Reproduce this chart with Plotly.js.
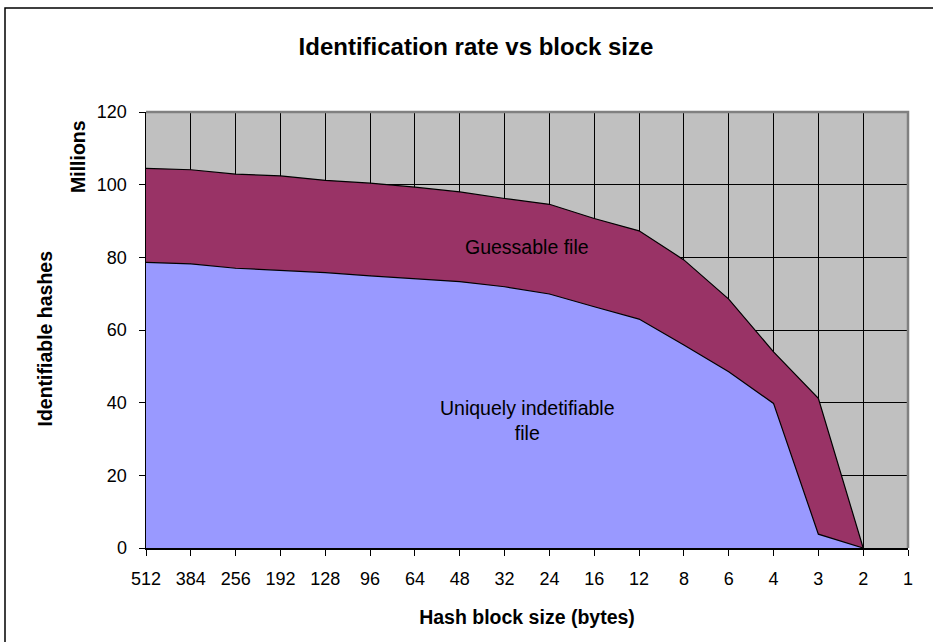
<!DOCTYPE html>
<html>
<head>
<meta charset="utf-8">
<script src="https://cdn.plot.ly/plotly-3.0.1.min.js"></script>
<style>
html,body{margin:0;padding:0;background:#fff;}
#chart{width:933px;height:642px;}
</style>
</head>
<body>
<div id="chart"></div>
<script>
// Hash block size categories (bytes)
var blockSizes = ["512","384","256","192","128","96","64","48","32","24","16","12","8","6","4","3","2","1"];
// Millions of hashes, uniquely identifiable file
var uniqueVals = [78.6, 78.2, 77.0, 76.5, 75.8, 74.9, 74.2, 73.3, 71.9, 69.9, 66.4, 63.0, 55.9, 48.5, 39.8, 3.8, 0, null];
// Millions of hashes, guessable file (stacked on top)
var guessVals  = [25.9, 25.9, 25.9, 25.9, 25.4, 25.5, 25.1, 24.7, 24.3, 24.7, 24.3, 24.3, 23.4, 20.0, 14.2, 37.4, 0, null];
var yTicks = [0, 20, 40, 60, 80, 100, 120];

function keep(vals){
  var xs = [], ys = [];
  for (var i = 0; i < vals.length; i++) {
    if (vals[i] !== null) { xs.push(blockSizes[i]); ys.push(vals[i]); }
  }
  return {x: xs, y: ys};
}
var u = keep(uniqueVals), g = keep(guessVals);

var traces = [
  {
    type: 'scatter', mode: 'lines', name: 'Uniquely indetifiable file',
    x: u.x, y: u.y, stackgroup: 'one',
    fillcolor: '#9999FF', line: {color: '#000000', width: 1.2}
  },
  {
    type: 'scatter', mode: 'lines', name: 'Guessable file',
    x: g.x, y: g.y, stackgroup: 'one',
    fillcolor: '#993366', line: {color: '#000000', width: 1.2}
  }
];

var font = 'Liberation Sans, Arial, sans-serif';

var layout = {
  width: 933, height: 642,
  margin: {l: 146, r: 25, t: 112, b: 94},
  paper_bgcolor: '#ffffff',
  plot_bgcolor: '#C0C0C0',
  showlegend: false,
  font: {family: font, color: '#000'},
  title: {
    text: '<b>Identification rate vs block size</b>',
    font: {family: font, size: 24, color: '#000'},
    x: 476/933, xanchor: 'center', y: 1 - 47/642, yanchor: 'middle'
  },
  xaxis: {
    type: 'category', categoryorder: 'array', categoryarray: blockSizes,
    tickvals: blockSizes, ticktext: blockSizes,
    range: [0, 17],
    showgrid: true, gridcolor: '#000000', gridwidth: 1,
    showline: true, linecolor: '#000000', linewidth: 1.5,
    ticks: 'outside', ticklen: 6, tickcolor: '#000', tickwidth: 1,
    tickfont: {family: font, size: 18, color: '#000'},
    ticklabelstandoff: 8,
    title: {
      text: '<b>Hash block size (bytes)</b>',
      font: {family: font, size: 19.5, color: '#000'},
      standoff: 22
    },
    fixedrange: true
  },
  yaxis: {
    range: [0, 120], tickvals: yTicks,
    showgrid: true, gridcolor: '#000000', gridwidth: 1,
    zeroline: false,
    showline: true, linecolor: '#000000', linewidth: 1.5,
    ticks: 'outside', ticklen: 6, tickcolor: '#000', tickwidth: 1,
    tickfont: {family: font, size: 18, color: '#000'},
    ticklabelstandoff: 8,
    fixedrange: true
  },
  shapes: [
    {type: 'path', xref: 'paper', yref: 'paper', path: 'M0,1 L1,1 L1,0',
     line: {color: '#808080', width: 2.5}, layer: 'above'},
    {type: 'rect', xref: 'paper', yref: 'paper',
     x0: (5 - 146) / 762, x1: 1.2, y0: -0.5, y1: 1 + (112 - 8) / 436,
     line: {color: '#000', width: 1.5}, fillcolor: 'rgba(0,0,0,0)', layer: 'below'}
  ],
  annotations: [
    {text: '<b>Identifiable hashes</b>', textangle: -90, xref: 'paper', yref: 'paper',
     x: (44.5 - 146) / 762, y: (548 - 339) / 436, xanchor: 'center', yanchor: 'middle',
     showarrow: false, font: {family: font, size: 19.5, color: '#000'}},
    {text: '<b>Millions</b>', textangle: -90, xref: 'paper', yref: 'paper',
     x: (77.5 - 146) / 762, y: (548 - 156.5) / 436, xanchor: 'center', yanchor: 'middle',
     showarrow: false, font: {family: font, size: 19.5, color: '#000'}},
    {text: 'Guessable file', xref: 'x', yref: 'y', x: 8.5, y: (548 - 247) / 436 * 120,
     xanchor: 'center', yanchor: 'middle', showarrow: false,
     font: {family: font, size: 19.5, color: '#000'}},
    {text: 'Uniquely indetifiable<br>file', xref: 'x', yref: 'y', x: 8.5, y: (548 - 420) / 436 * 120,
     xanchor: 'center', yanchor: 'middle', showarrow: false, align: 'center',
     font: {family: font, size: 19.5, color: '#000'}}
  ]
};

Plotly.newPlot('chart', traces, layout, {displayModeBar: false, staticPlot: true});
</script>
</body>
</html>
